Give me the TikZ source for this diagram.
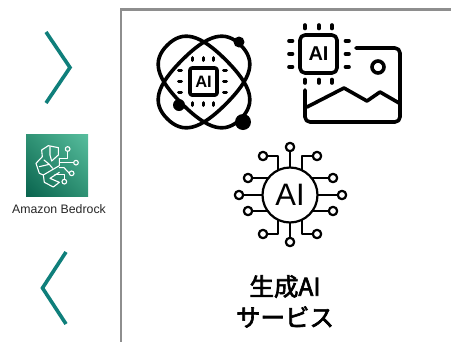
\documentclass[tikz,border=0pt]{standalone}
\usepackage{fontspec}
\usetikzlibrary{shadings}
\setmainfont{Liberation Sans}
\newfontfamily\cjk[FakeBold=2.6]{Noto Sans CJK JP}
\definecolor{tealline}{HTML}{0F7F7B}
\definecolor{framegray}{HTML}{8E8E8E}
\definecolor{bl}{HTML}{09634E}
\definecolor{tr}{HTML}{58BE9E}
\definecolor{mid}{HTML}{2F9274}
\tikzset{
 x=1pt,y=-1pt,
 chevron/.style={draw=tealline,line width=3.6pt,miter limit=10},
 frameline/.style={draw=framegray,line width=2.2pt},
 ico/.style={draw=black,line width=3.6pt,line cap=round,line join=round},
 icothin/.style={draw=black,line width=2.2pt,line cap=round,line join=round},
 pin/.style={draw=black,line width=3.6pt,line cap=round},
 brain/.style={draw=white,line width=1.1pt,line join=round,line cap=round},
 lbl/.style={inner sep=0pt,text=black}
}
\newcommand{\orbitpath}{(52,0) .. controls (52,22) and (37,31) .. (0,31) .. controls (-37,31) and (-52,22) .. (-52,0) .. controls (-52,-22) and (-37,-31) .. (0,-31) .. controls (37,-31) and (52,-22) .. (52,0) -- cycle}
\begin{document}
\begin{tikzpicture}
\useasboundingbox (0,0) rectangle (451,341);
\fill[white] (0,0) rectangle (451,341);
% frame
\draw[frameline] (121,345) -- (121,9.5) -- (455,9.5);
% chevrons
\draw[chevron] (46,32) -- (70,67.5) -- (46,103);
\draw[chevron] (66,252) -- (42.5,288) -- (66,324);
% bedrock
\shade[lower left=bl,upper right=tr,upper left=mid,lower right=mid] (26,134) rectangle (88,196);
\begin{scope}[shift={(0,125)},x=0.3333pt,y=-0.3333pt]
\draw[brain] (175,68) -- (145,62) -- (125,75) -- (127,95) -- (108,115) -- (118,145) -- (130,150) -- (133,172) -- (160,186) -- (178,172) -- (150,160) -- (178,142);
\draw[brain] (175,68) -- (175,90) -- (155,108) -- (150,90) -- (150,65);
\draw[brain] (118,125) -- (148,118) -- (132,105);
\draw[brain] (148,118) -- (158,130);
\draw[brain] (130,150) -- (178,122) -- (178,100);
\draw[brain] (178,100) -- (203,100) -- (203,79);
\draw[brain] (178,113) -- (221,113);
\draw[brain] (178,128) -- (192,128) -- (208,145);
\draw[brain] (165,148) -- (193,148) -- (193,163);
\draw[brain] (203,72) circle (7);
\draw[brain] (228,113) circle (7);
\draw[brain] (215,145) circle (7);
\draw[brain] (193,170) circle (7);
\end{scope}
\node[lbl,font=\fontsize{12.3}{14}\selectfont,text=black!85] (bedrock) at (59,209.5) {Amazon Bedrock};
% atom icon
\begin{scope}[shift={(204,82)},rotate=45]
\draw[ico] \orbitpath;
\end{scope}
\begin{scope}[shift={(204,82)},rotate=-45]
\draw[ico] \orbitpath;
\end{scope}
\draw[ico,rounded corners=2pt] (190,68) rectangle (217,95);
\node[lbl,font=\fontsize{16.5}{18}\selectfont\bfseries] (ai1) at (203.5,81.5) {AI};
\foreach \v in {192,203,213}{
 \draw[pin,line width=3pt] (\v,57.5) -- (\v,60.5);
 \draw[pin,line width=3pt] (\v,102.5) -- (\v,105.5);
}
\foreach \v in {70,81,92}{
 \draw[pin,line width=3pt] (178.5,\v) -- (181.5,\v);
 \draw[pin,line width=3pt] (223.5,\v) -- (226.5,\v);
}
\fill[black] (239,42) circle (5.5);
\fill[black] (179,105) circle (6);
\fill[black] (243,122) circle (8);
% image icon
\draw[ico,rounded corners=5pt] (300,35) rectangle (337,73);
\node[lbl,font=\fontsize{20}{22}\selectfont\bfseries] (ai2) at (318.5,54) {AI};
\foreach \v in {305,319,332}{
 \draw[pin] (\v,25) -- (\v,28.5);
 \draw[pin] (\v,79.5) -- (\v,83);
}
\foreach \v in {41,54,67}{
 \draw[pin] (289,\v) -- (292.5,\v);
 \draw[pin] (345.5,\v) -- (349,\v);
}
\draw[ico,rounded corners=5pt] (356,48) -- (400,48) -- (400,122) -- (305,122) -- (305,90);
\draw[ico] (307,107) -- (344,88) -- (367,101) -- (380,92) -- (399,103);
\draw[ico] (378,67) circle (6);
% circuit icon
\draw[icothin] (290,195) circle (27.5);
\node[lbl,font=\fontsize{31}{32}\selectfont] (ai3) at (290,195) {AI};
\foreach \px/\py in {290/147,290/242,239/195,342/195,248/178,248/211,333/178,333/211,263/156,317/156,263/234,317/234}{
 \draw[icothin] (\px,\py) circle (4.2);
}
\draw[icothin] (290,152) -- (290,167);
\draw[icothin] (290,223) -- (290,237);
\draw[icothin] (244,195) -- (262,195);
\draw[icothin] (318,195) -- (337,195);
\draw[icothin] (252.5,178) -- (268,178);
\draw[icothin] (252.5,211) -- (268,211);
\draw[icothin] (312,178) -- (328.5,178);
\draw[icothin] (312,211) -- (328.5,211);
\draw[icothin] (267.5,156) -- (278,156) -- (278,170);
\draw[icothin] (312.5,156) -- (302,156) -- (302,170);
\draw[icothin] (267.5,234) -- (278,234) -- (278,220);
\draw[icothin] (312.5,234) -- (302,234) -- (302,220);
% title
\node[lbl,font=\cjk\fontsize{24.5}{26}\selectfont] (t1) at (285,286.5) {生成AI};
\node[lbl,font=\cjk\fontsize{24.5}{26}\selectfont] (t2) at (285,317) {サービス};
\end{tikzpicture}
\end{document}
